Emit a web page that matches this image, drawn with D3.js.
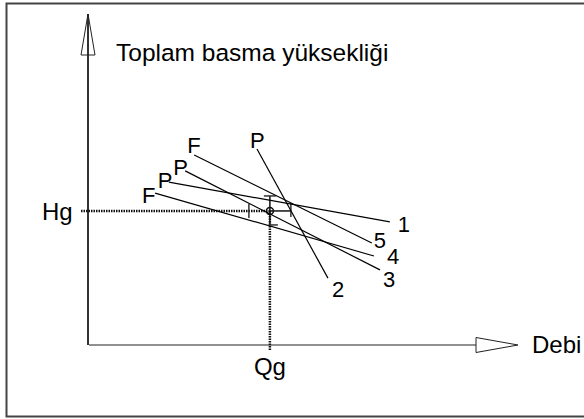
<!DOCTYPE html>
<html>
<head>
<meta charset="utf-8">
<script src="https://cdn.jsdelivr.net/npm/d3@7"></script>
<style>
  body { margin: 0; background: #fff; }
  svg text { font-family: "Liberation Sans", Arial, sans-serif; fill: #000; }
</style>
</head>
<body>
<div id="chart"></div>
<script>
// curve names and their end labels
var curveIds = ["1", "2", "3", "4", "5"];
var startLabels = ["P", "P", "P", "F", "F"];
// start / end points of each curve, in (Q, H) units
var qStart = [1.88, 3.93, 2.26, 1.56, 2.47];
var hStart = [4.92, 5.92, 5.26, 4.59, 5.74];
var qEnd = [7.02, 5.58, 6.79, 6.65, 6.60];
var hEnd = [3.72, 2.02, 2.27, 2.69, 3.08];
// operating point
var Qg = 4.23, Hg = 4.05;

var width = 584, height = 419;

var x = d3.scaleLinear().domain([0, 10]).range([88, 518]);
var y = d3.scaleLinear().domain([0, 10]).range([345, 14]);

var svg = d3.select("#chart").append("svg")
    .attr("width", width)
    .attr("height", height);

// outer frame
svg.append("rect")
    .attr("x", 6.5).attr("y", 3.5)
    .attr("width", 600).attr("height", 413)
    .attr("fill", "none")
    .attr("stroke", "#444")
    .attr("stroke-width", 2);

// axes
svg.append("line")
    .attr("x1", x(0)).attr("y1", y(0))
    .attr("x2", x(0)).attr("y2", y(10))
    .attr("stroke", "#333").attr("stroke-width", 2);
svg.append("path")
    .attr("d", "M" + x(0) + "," + y(10) + "L" + (x(0) - 7) + "," + (y(10) + 41) + "L" + (x(0) + 7) + "," + (y(10) + 41) + "Z")
    .attr("fill", "none").attr("stroke", "#222").attr("stroke-width", 1);
svg.append("line")
    .attr("x1", x(0) + 1).attr("y1", y(0))
    .attr("x2", x(10) - 42).attr("y2", y(0))
    .attr("stroke", "#222").attr("stroke-width", 1.2);
svg.append("path")
    .attr("d", "M" + x(10) + "," + y(0) + "L" + (x(10) - 42) + "," + (y(0) - 7.5) + "L" + (x(10) - 42) + "," + (y(0) + 7.5) + "Z")
    .attr("fill", "#fff").attr("stroke", "#222").attr("stroke-width", 1);

svg.append("text")
    .attr("x", 116).attr("y", 61)
    .style("font-size", "24.5px")
    .text("Toplam basma yüksekliği");
svg.append("text")
    .attr("x", 532).attr("y", 353)
    .style("font-size", "24px")
    .text("Debi");

// operating point guides
svg.append("line")
    .attr("x1", x(0) - 7).attr("y1", y(Hg))
    .attr("x2", x(Qg)).attr("y2", y(Hg))
    .attr("stroke", "#111").attr("stroke-width", 2.5)
    .attr("stroke-dasharray", "1.5,1");
svg.append("line")
    .attr("x1", x(Qg)).attr("y1", y(Hg))
    .attr("x2", x(Qg)).attr("y2", y(0) + 6)
    .attr("stroke", "#111").attr("stroke-width", 2.5)
    .attr("stroke-dasharray", "1.5,1");
svg.append("line")
    .attr("x1", x(Qg)).attr("y1", y(Hg) - 15)
    .attr("x2", x(Qg)).attr("y2", y(Hg) + 14)
    .attr("stroke", "#111").attr("stroke-width", 1.5);
svg.append("line")
    .attr("x1", x(Qg)).attr("y1", y(Hg))
    .attr("x2", x(Qg) + 21).attr("y2", y(Hg))
    .attr("stroke", "#111").attr("stroke-width", 1.5);
// small tolerance ticks
var ticks = [
    [x(Qg) - 21, y(Hg) - 7, x(Qg) - 21, y(Hg) + 7],
    [x(Qg) + 21, y(Hg) - 8, x(Qg) + 21, y(Hg) + 6],
    [x(Qg) - 6, y(Hg) - 15, x(Qg) + 6, y(Hg) - 15],
    [x(Qg) - 1, y(Hg) + 14, x(Qg) + 8, y(Hg) + 14]
];
svg.selectAll(".tick").data(ticks).enter().append("line")
    .attr("class", "tick")
    .attr("x1", function (d) { return d[0]; })
    .attr("y1", function (d) { return d[1]; })
    .attr("x2", function (d) { return d[2]; })
    .attr("y2", function (d) { return d[3]; })
    .attr("stroke", "#333").attr("stroke-width", 1.5);
svg.append("circle")
    .attr("cx", x(Qg)).attr("cy", y(Hg)).attr("r", 3.5)
    .attr("fill", "none").attr("stroke", "#111").attr("stroke-width", 1.5);

svg.append("text")
    .attr("x", 42).attr("y", 220)
    .style("font-size", "24px")
    .text("Hg");
svg.append("text")
    .attr("x", x(Qg)).attr("y", 375)
    .attr("text-anchor", "middle")
    .style("font-size", "24px")
    .text("Qg");

// curves
var curves = curveIds.map(function (id, i) {
    return { id: id, start: startLabels[i], q0: qStart[i], h0: hStart[i], q1: qEnd[i], h1: hEnd[i] };
});

svg.selectAll(".curve").data(curves).enter().append("line")
    .attr("class", "curve")
    .attr("x1", function (d) { return x(d.q0); })
    .attr("y1", function (d) { return y(d.h0); })
    .attr("x2", function (d) { return x(d.q1); })
    .attr("y2", function (d) { return y(d.h1); })
    .attr("stroke", "#000").attr("stroke-width", 1.2);

// label offsets (pixels) for start and end texts
var startOff = [[-11, 6], [-7, -1], [-12, 4], [-13, 10], [-7, -2]];
var endOff = [[8, 10], [4, 19], [3, 17], [13, 8], [2, 5]];

svg.selectAll(".slabel").data(curves).enter().append("text")
    .attr("class", "slabel")
    .attr("x", function (d, i) { return x(d.q0) + startOff[i][0]; })
    .attr("y", function (d, i) { return y(d.h0) + startOff[i][1]; })
    .style("font-size", "22px")
    .text(function (d) { return d.start; });

svg.selectAll(".elabel").data(curves).enter().append("text")
    .attr("class", "elabel")
    .attr("x", function (d, i) { return x(d.q1) + endOff[i][0]; })
    .attr("y", function (d, i) { return y(d.h1) + endOff[i][1]; })
    .style("font-size", "22px")
    .text(function (d) { return d.id; });
</script>
</body>
</html>
